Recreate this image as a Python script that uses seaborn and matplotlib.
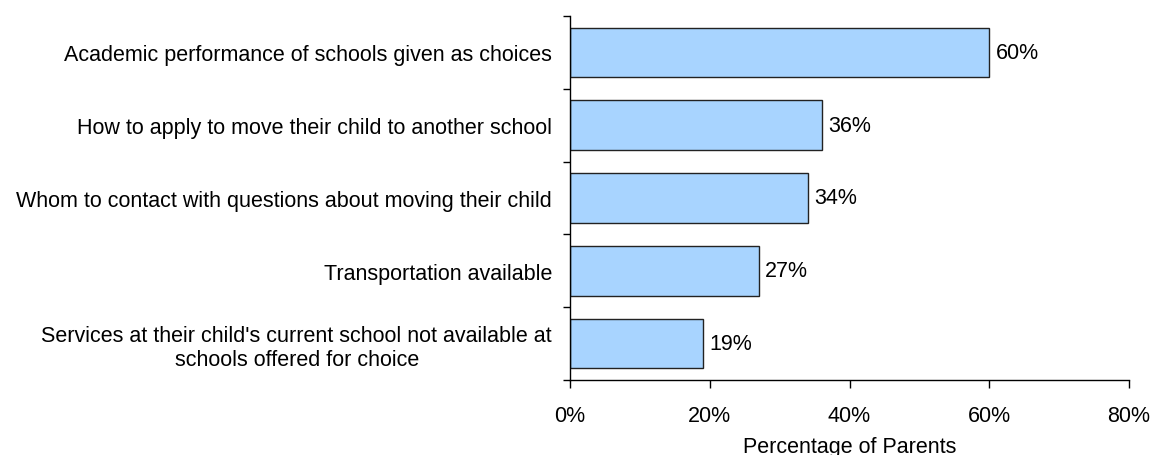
import matplotlib
matplotlib.use("Agg")
import matplotlib.pyplot as plt
import seaborn as sns
import pandas as pd
import numpy as np
from matplotlib.ticker import FixedLocator

categories = [
    "Academic performance of schools given as choices",
    "How to apply to move their child to another school",
    "Whom to contact with questions about moving their child",
    "Transportation available",
    "Services at their child's current school not available at\nschools offered for choice",
]
values = [60, 36, 34, 27, 19]
xticks = [0, 20, 40, 60, 80]
xtick_labels = ["0%", "20%", "40%", "60%", "80%"]

sns.set_theme(style="white")
plt.rcParams['font.family'] = ['Liberation Sans', 'DejaVu Sans']
FS = 15.5

df = pd.DataFrame({"cat": categories, "val": values})

fig = plt.figure(figsize=(11.53, 4.56), dpi=100)
ax = fig.add_axes([570/1153, 1-381/456, (1129-570)/1153, (381-17)/456])

sns.barplot(data=df, y="cat", x="val", orient="h", color="#A8D4FF",
            saturation=1, width=0.68, edgecolor="#222222", linewidth=1, ax=ax)

for i, v in enumerate(values):
    ax.annotate(f"{v}%", xy=(v, i), xytext=(4.5, 0), textcoords="offset points",
                va="center", ha="left", fontsize=FS, color="black")

ax.set_xlim(0, 80)
ax.set_ylim(4.5, -0.5)
ax.set_xticks(xticks)
ax.set_xticklabels(xtick_labels, fontsize=FS, color="black")
ax.set_xlabel("Percentage of Parents", fontsize=FS, labelpad=7, color="black")
ax.set_ylabel("")
ax.tick_params(axis="x", direction="out", length=6, width=1, color="black", pad=12, bottom=True)
ax.tick_params(axis="y", which="major", length=0, pad=13, labelsize=FS, labelcolor="black")
ax.yaxis.set_minor_locator(FixedLocator(np.arange(-0.5, 5.0, 1.0)))
ax.tick_params(axis="y", which="minor", direction="out", length=5, width=1, color="black", left=True)
for lbl in ax.get_yticklabels():
    lbl.set_horizontalalignment("right")
    lbl.set_multialignment("center")

for s in ["top", "right"]:
    ax.spines[s].set_visible(False)
for s in ["left", "bottom"]:
    ax.spines[s].set_color("black")
    ax.spines[s].set_linewidth(1)

fig.savefig("out.png", dpi=100)
